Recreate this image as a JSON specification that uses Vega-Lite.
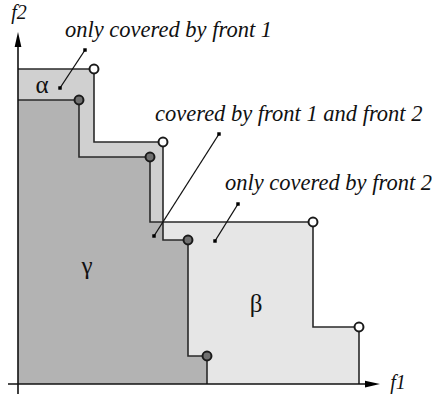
{
  "$schema": "https://vega.github.io/schema/vega-lite/v6.json",
  "autosize": "none",
  "width": 362,
  "height": 354,
  "padding": {"left": 18, "top": 30, "right": 52, "bottom": 15},
  "background": "white",
  "config": {"view": {"stroke": null}},
  "datasets": {
    "front2Region": [
      {"f1": 0, "f2": 31.5}, {"f1": 7.6, "f2": 24.2}, {"f1": 14.5, "f2": 16.2},
      {"f1": 29.5, "f2": 5.7}, {"f1": 34.1, "f2": 0}
    ],
    "alphaBand": [
      {"f1": 0, "f2": 31.5}, {"f1": 7.6, "f2": 24.2}, {"f1": 14.5, "f2": 0}
    ],
    "front1Region": [
      {"f1": 0, "f2": 28.4}, {"f1": 6.1, "f2": 22.7}, {"f1": 13.2, "f2": 16.2},
      {"f1": 14.5, "f2": 14.4}, {"f1": 17.0, "f2": 2.8}, {"f1": 18.9, "f2": 0}
    ],
    "points": [
      {"front": "front 2", "f1": 7.6, "f2": 31.5},
      {"front": "front 2", "f1": 14.5, "f2": 24.2},
      {"front": "front 2", "f1": 29.5, "f2": 16.2},
      {"front": "front 2", "f1": 34.1, "f2": 5.7},
      {"front": "front 1", "f1": 6.1, "f2": 28.4},
      {"front": "front 1", "f1": 13.2, "f2": 22.7},
      {"front": "front 1", "f1": 17.0, "f2": 14.4},
      {"front": "front 1", "f1": 18.9, "f2": 2.8}
    ],
    "leaders": [
      {"id": "a", "order": 1, "f1": 6.7, "f2": 33.4},
      {"id": "a", "order": 2, "f1": 4.2, "f2": 29.6},
      {"id": "b", "order": 1, "f1": 20.1, "f2": 25.0},
      {"id": "b", "order": 2, "f1": 13.6, "f2": 14.8},
      {"id": "c", "order": 1, "f1": 22.0, "f2": 18.0},
      {"id": "c", "order": 2, "f1": 19.7, "f2": 14.3}
    ],
    "notes": [
      {"text": "only covered by front 1", "f1": 4.7, "f2": 34.7},
      {"text": "covered by front 1 and front 2", "f1": 13.7, "f2": 26.3},
      {"text": "only covered by front 2", "f1": 20.7, "f2": 19.4}
    ],
    "regions": [
      {"text": "α", "f1": 2.4, "f2": 29.9},
      {"text": "γ", "f1": 6.9, "f2": 11.8},
      {"text": "β", "f1": 23.8, "f2": 8.0}
    ],
    "axisNames": [
      {"text": "f2", "f1": 0.1, "f2": 37.1},
      {"text": "f1", "f1": 38.0, "f2": 0.1}
    ],
    "axisLines": [
      {"f1": 0, "f1b": 0, "f2": -1.0, "f2b": 34.2},
      {"f1": -1.0, "f1b": 35.2, "f2": 0, "f2b": 0}
    ],
    "arrowHeads": [
      {"dir": "up", "f1": 0, "f2": 34.45},
      {"dir": "right", "f1": 35.45, "f2": 0}
    ]
  },
  "encoding": {
    "x": {"field": "f1", "type": "quantitative", "axis": null,
          "scale": {"domain": [0, 36.2], "nice": false, "zero": false}},
    "y": {"field": "f2", "type": "quantitative", "axis": null,
          "scale": {"domain": [0, 35.4], "nice": false, "zero": false}}
  },
  "layer": [
    {
      "data": {"name": "front2Region"},
      "mark": {"type": "area", "interpolate": "step-after", "color": "#e6e6e6"}
    },
    {
      "data": {"name": "alphaBand"},
      "mark": {"type": "area", "interpolate": "step-after", "color": "#d0d0d0"}
    },
    {
      "data": {"name": "front1Region"},
      "mark": {"type": "area", "interpolate": "step-after", "color": "#b3b3b3"}
    },
    {
      "data": {"name": "front2Region"},
      "mark": {"type": "line", "interpolate": "step-after", "color": "#2a2a2a", "strokeWidth": 1.6}
    },
    {
      "data": {"name": "front1Region"},
      "mark": {"type": "line", "interpolate": "step-after", "color": "#2a2a2a", "strokeWidth": 1.6}
    },
    {
      "data": {"name": "axisLines"},
      "mark": {"type": "rule", "color": "#111111", "strokeWidth": 1.6},
      "encoding": {
        "x2": {"field": "f1b"},
        "y2": {"field": "f2b"}
      }
    },
    {
      "data": {"name": "arrowHeads"},
      "transform": [{"filter": "datum.dir === 'up'"}],
      "mark": {"type": "point", "shape": "M0,-1L0.45,1L-0.45,1Z", "filled": true, "color": "#000000", "size": 225, "opacity": 1}
    },
    {
      "data": {"name": "arrowHeads"},
      "transform": [{"filter": "datum.dir === 'right'"}],
      "mark": {"type": "point", "shape": "M1,0L-1,0.45L-1,-0.45Z", "filled": true, "color": "#000000", "size": 225, "opacity": 1}
    },
    {
      "data": {"name": "leaders"},
      "mark": {"type": "line", "color": "#111111", "strokeWidth": 1.3},
      "encoding": {
        "detail": {"field": "id"},
        "order": {"field": "order"}
      }
    },
    {
      "data": {"name": "leaders"},
      "mark": {"type": "square", "color": "#000000", "size": 12, "opacity": 1}
    },
    {
      "data": {"name": "points"},
      "mark": {"type": "point", "shape": "circle", "filled": true, "size": 80, "strokeWidth": 2, "stroke": "#1a1a1a", "opacity": 1},
      "encoding": {
        "fill": {"field": "front", "type": "nominal", "legend": null,
                 "scale": {"domain": ["front 1", "front 2"], "range": ["#707070", "#ffffff"]}}
      }
    },
    {
      "data": {"name": "notes"},
      "mark": {"type": "text", "align": "left", "baseline": "alphabetic", "font": "Liberation Serif", "fontStyle": "italic", "fontSize": 22.5, "color": "#111111"},
      "encoding": {"text": {"field": "text"}}
    },
    {
      "data": {"name": "regions"},
      "mark": {"type": "text", "align": "center", "baseline": "middle", "font": "Liberation Serif", "fontSize": 25, "color": "#111111"},
      "encoding": {"text": {"field": "text"}}
    },
    {
      "data": {"name": "axisNames"},
      "mark": {"type": "text", "align": "center", "baseline": "middle", "font": "Liberation Serif", "fontStyle": "italic", "fontSize": 20, "color": "#111111"},
      "encoding": {"text": {"field": "text"}}
    }
  ]
}
